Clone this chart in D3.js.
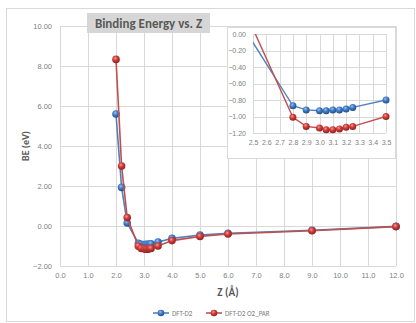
<!DOCTYPE html>
<html>
<head>
<meta charset="utf-8">
<script src="https://cdn.jsdelivr.net/npm/d3@7"></script>
<style>
  html, body { margin: 0; padding: 0; background: #fff; }
  svg { display: block; font-family: Calibri, Carlito, "Open Sans", "Noto Sans", sans-serif; }
</style>
</head>
<body>
<svg id="chart" width="416" height="323"></svg>
<script>
// Separation Z (Å) and binding energies (eV) for the two calculations
const zValues = [2.0, 2.2, 2.4, 2.8, 2.9, 3.0, 3.05, 3.1, 3.15, 3.2, 3.25, 3.5, 4.0, 5.0, 6.0, 9.0, 12.0];
const beD2 = [5.60, 1.93, 0.15, -0.87, -0.92, -0.93, -0.93, -0.92, -0.92, -0.91, -0.89, -0.80, -0.62, -0.45, -0.36, -0.21, -0.02];
const beD2Par = [8.33, 3.00, 0.42, -1.01, -1.12, -1.14, -1.16, -1.16, -1.15, -1.13, -1.12, -1.00, -0.73, -0.52, -0.40, -0.24, -0.03];
const seriesNames = ["DFT-D2", "DFT-D2 O2_PAR"];
const xTicksMain = [0, 1, 2, 3, 4, 5, 6, 7, 8, 9, 10, 11, 12];
const yTicksMain = [-2, 0, 2, 4, 6, 8, 10];
const xTicksInset = [2.5, 2.6, 2.7, 2.8, 2.9, 3.0, 3.1, 3.2, 3.3, 3.4, 3.5];
const yTicksInset = [0, -0.2, -0.4, -0.6, -0.8, -1.0, -1.2];

const series = [
  { name: seriesNames[0], values: beD2, line: "#4f81bd", fill: "blue" },
  { name: seriesNames[1], values: beD2Par, line: "#c0504d", fill: "red" }
];

const svg = d3.select("#chart");
const grid = "#d9d9d9";
const tickColor = "#808080";
const titleColor = "#595959";

// glossy marker fills
const defs = svg.append("defs");
function glossy(id, light, mid, dark) {
  const g = defs.append("radialGradient").attr("id", id)
    .attr("cx", "40%").attr("cy", "35%").attr("r", "65%");
  g.append("stop").attr("offset", "0%").attr("stop-color", light);
  g.append("stop").attr("offset", "45%").attr("stop-color", mid);
  g.append("stop").attr("offset", "100%").attr("stop-color", dark);
}
glossy("blue", "#9cc3f0", "#3d7cc9", "#24508a");
glossy("red", "#f09a98", "#d23b38", "#8e2220");

// chart frame
svg.append("rect").attr("x", 6.5).attr("y", 8.5).attr("width", 408).attr("height", 313)
  .attr("fill", "#fff").attr("stroke", grid);

// ---------- main plot ----------
const x = d3.scaleLinear().domain([0, 12]).range([60, 396]);
const y = d3.scaleLinear().domain([-2, 10]).range([266, 26]);

const main = svg.append("g");
main.append("g").selectAll("line").data(xTicksMain).join("line")
  .attr("x1", d => Math.round(x(d)) + 0.5).attr("x2", d => Math.round(x(d)) + 0.5)
  .attr("y1", y(10)).attr("y2", y(-2)).attr("stroke", grid);
main.append("g").selectAll("line").data(yTicksMain).join("line")
  .attr("x1", x(0)).attr("x2", x(12))
  .attr("y1", d => Math.round(y(d)) + 0.5).attr("y2", d => Math.round(y(d)) + 0.5).attr("stroke", grid);

const yAxis = main.append("g").attr("transform", `translate(${x(0)},0)`)
  .call(d3.axisLeft(y).tickValues(yTicksMain).tickFormat(d3.format(".2f")).tickSize(0).tickPadding(8));
yAxis.select(".domain").remove();
yAxis.selectAll("text").attr("fill", tickColor).style("font-size", "7.5px");

const xAxis = main.append("g").attr("transform", `translate(0,${y(-2)})`)
  .call(d3.axisBottom(x).tickValues(xTicksMain).tickFormat(d3.format(".1f")).tickSize(0).tickPadding(7));
xAxis.select(".domain").remove();
xAxis.selectAll("text").attr("fill", tickColor).style("font-size", "7.5px");

const lineMain = d3.line().x(d => x(d[0])).y(d => y(d[1]));
series.forEach(s => {
  const pts = zValues.map((z, i) => [z, s.values[i]]);
  main.append("path").datum(pts).attr("d", lineMain)
    .attr("fill", "none").attr("stroke", s.line).attr("stroke-width", 1.6);
  main.append("g").selectAll("circle").data(pts).join("circle")
    .attr("cx", d => x(d[0])).attr("cy", d => y(d[1])).attr("r", 3.8)
    .attr("fill", `url(#${s.fill})`);
});

// axis titles
svg.append("text").attr("x", 228).attr("y", 296).attr("text-anchor", "middle")
  .attr("fill", titleColor).style("font-size", "11px").style("font-weight", "bold").text("Z (Å)");
svg.append("text").attr("transform", "translate(29,146) rotate(-90)").attr("text-anchor", "middle")
  .attr("fill", titleColor).style("font-size", "10px").style("font-weight", "bold").text("BE (eV)");

// chart title on a grey band
svg.append("rect").attr("x", 87).attr("y", 13).attr("width", 123).attr("height", 20).attr("fill", "#d6d6d6");
svg.append("text").attr("x", 148.5).attr("y", 28).attr("text-anchor", "middle")
  .attr("fill", titleColor).style("font-size", "13px").style("font-weight", "bold").text("Binding Energy vs. Z");

// legend
const legend = svg.append("g");
const legendX = [153, 206];
series.forEach((s, i) => {
  const lx = legendX[i];
  legend.append("line").attr("x1", lx).attr("x2", lx + 16).attr("y1", 313).attr("y2", 313)
    .attr("stroke", s.line).attr("stroke-width", 1.6);
  legend.append("circle").attr("cx", lx + 8).attr("cy", 313).attr("r", 3.3).attr("fill", `url(#${s.fill})`);
  legend.append("text").attr("x", lx + 19).attr("y", 315.5).attr("fill", tickColor)
    .style("font-size", "7px").text(s.name);
});

// ---------- inset zoom on the minimum ----------
svg.append("rect").attr("x", 227.5).attr("y", 27.5).attr("width", 168).attr("height", 131)
  .attr("fill", "#fff").attr("stroke", grid);

const xi = d3.scaleLinear().domain([2.5, 3.5]).range([253, 386]);
const yi = d3.scaleLinear().domain([-1.2, 0]).range([133, 34]);
const inset = svg.append("g");

defs.append("clipPath").attr("id", "insetClip").append("rect")
  .attr("x", xi(2.5)).attr("y", yi(0)).attr("width", xi(3.5) - xi(2.5)).attr("height", yi(-1.2) - yi(0));

inset.append("g").selectAll("line").data(xTicksInset).join("line")
  .attr("x1", d => Math.round(xi(d)) + 0.5).attr("x2", d => Math.round(xi(d)) + 0.5)
  .attr("y1", yi(0)).attr("y2", yi(-1.2)).attr("stroke", grid);
inset.append("g").selectAll("line").data(yTicksInset).join("line")
  .attr("x1", xi(2.5)).attr("x2", xi(3.5))
  .attr("y1", d => Math.round(yi(d)) + 0.5).attr("y2", d => Math.round(yi(d)) + 0.5).attr("stroke", grid);

const yAxisI = inset.append("g").attr("transform", `translate(${xi(2.5)},0)`)
  .call(d3.axisLeft(yi).tickValues(yTicksInset).tickFormat(d3.format(".2f")).tickSize(0).tickPadding(7));
yAxisI.select(".domain").remove();
yAxisI.selectAll("text").attr("fill", tickColor).style("font-size", "7px");

const xAxisI = inset.append("g").attr("transform", `translate(0,${yi(-1.2)})`)
  .call(d3.axisBottom(xi).tickValues(xTicksInset).tickFormat(d3.format(".1f")).tickSize(0).tickPadding(7));
xAxisI.select(".domain").remove();
xAxisI.selectAll("text").attr("fill", tickColor).style("font-size", "7px");

const lineInset = d3.line().x(d => xi(d[0])).y(d => yi(d[1]));
series.forEach(s => {
  const pts = zValues.map((z, i) => [z, s.values[i]]);
  inset.append("path").datum(pts).attr("d", lineInset).attr("clip-path", "url(#insetClip)")
    .attr("fill", "none").attr("stroke", s.line).attr("stroke-width", 1.4);
  inset.append("g").selectAll("circle")
    .data(pts.filter(d => d[0] >= 2.5 && d[0] <= 3.5 && d[1] <= 0 && d[1] >= -1.2)).join("circle")
    .attr("cx", d => xi(d[0])).attr("cy", d => yi(d[1])).attr("r", 3.5)
    .attr("fill", `url(#${s.fill})`);
});
</script>
</body>
</html>
